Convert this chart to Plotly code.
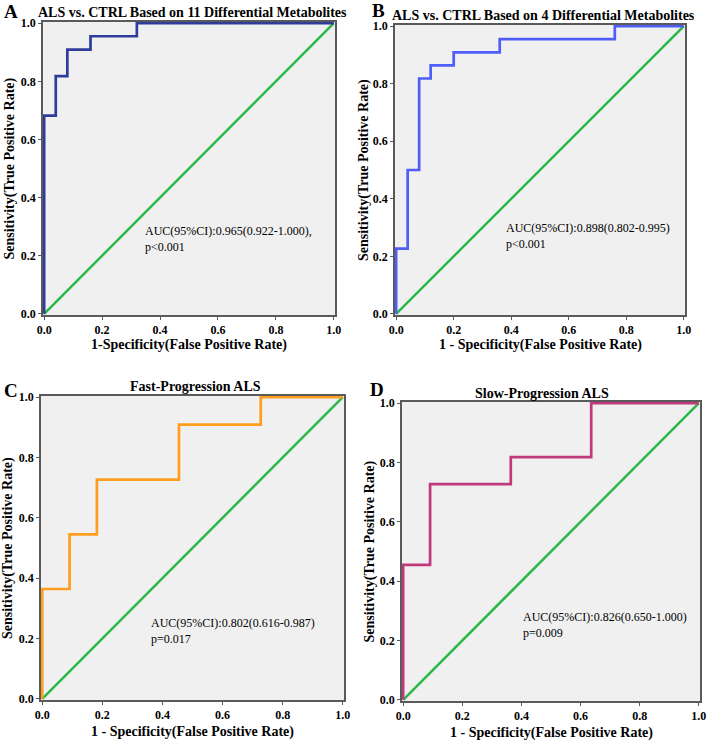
import plotly.graph_objects as go

# ROC step curves (1-specificity, sensitivity)
fpr_a = [0, 0, 0.04, 0.04, 0.08, 0.08, 0.16, 0.16, 0.32, 0.32, 1]
tpr_a = [0, 0.682, 0.682, 0.818, 0.818, 0.909, 0.909, 0.955, 0.955, 1, 1]

fpr_b = [0, 0, 0.04, 0.04, 0.08, 0.08, 0.12, 0.12, 0.20, 0.20, 0.36, 0.36, 0.76, 0.76, 1]
tpr_b = [0, 0.227, 0.227, 0.5, 0.5, 0.818, 0.818, 0.864, 0.864, 0.909, 0.909, 0.955, 0.955, 1, 1]

fpr_c = [0, 0, 0.091, 0.091, 0.182, 0.182, 0.455, 0.455, 0.727, 0.727, 1]
tpr_c = [0, 0.364, 0.364, 0.545, 0.545, 0.727, 0.727, 0.909, 0.909, 1, 1]

fpr_d = [0, 0, 0.091, 0.091, 0.364, 0.364, 0.636, 0.636, 1]
tpr_d = [0, 0.455, 0.455, 0.727, 0.727, 0.818, 0.818, 1, 1]

ref_line = [0, 1]

titles = [
    "ALS vs. CTRL Based on 11 Differential Metabolites",
    "ALS vs. CTRL Based on 4 Differential Metabolites",
    "Fast-Progression ALS",
    "Slow-Progression ALS",
]
letters = ["A", "B", "C", "D"]
auc_text = [
    "AUC(95%CI):0.965(0.922-1.000),<br>p<0.001",
    "AUC(95%CI):0.898(0.802-0.995)<br>p<0.001",
    "AUC(95%CI):0.802(0.616-0.987)<br>p=0.017",
    "AUC(95%CI):0.826(0.650-1.000)<br>p=0.009",
]
x_titles = [
    "1-Specificity(False Positive Rate)",
    "1 - Specificity(False Positive Rate)",
    "1 - Specificity(False Positive Rate)",
    "1 - Specificity(False Positive Rate)",
]
y_title = "Sensitivity(True Positive Rate)"
tick_vals = [0.0, 0.2, 0.4, 0.6, 0.8, 1.0]

W, H = 708, 743
# plot-area boxes in pixels: left, right, top, bottom
boxes = [(43, 335, 22, 315), (395, 685, 25, 315), (41, 344, 396, 700), (402, 700, 402, 701)]
colors = ["#2e3c9c", "#4f5ef7", "#ff9d1e", "#c2387c"]
curves = [(fpr_a, tpr_a), (fpr_b, tpr_b), (fpr_c, tpr_c), (fpr_d, tpr_d)]
auc_pos = [(0.34, 0.315), (0.375, 0.33), (0.355, 0.28), (0.40, 0.31)]
title_x = [192, 543, 195, 542]
title_y = [13, 15, 386, 393]
letter_pos = [(11, 11), (378, 10), (11, 390), (377, 389)]
ylab_x = [10, 364, 8, 369]
xlab_y = [345, 345, 732, 733]

SERIF = "Liberation Serif"
GREEN = "#2db84a"

fig = go.Figure()
annotations = []
layout = {}

for i in range(4):
    l, r, t, b = boxes[i]
    n = "" if i == 0 else str(i + 1)
    xa, ya = "x" + n, "y" + n
    fx, fy = curves[i]
    fig.add_trace(go.Scatter(x=ref_line, y=ref_line, mode="lines", xaxis=xa, yaxis=ya,
                             line=dict(color=GREEN, width=2.5), showlegend=False))
    fig.add_trace(go.Scatter(x=fx, y=fy, mode="lines", xaxis=xa, yaxis=ya,
                             line=dict(color=colors[i], width=2.7), showlegend=False))
    axis_common = dict(range=[-0.004, 1.004], showgrid=False, zeroline=False,
                       showline=True, mirror=True, linecolor="#5a5a5a", linewidth=1.5,
                       ticks="outside", ticklen=3, tickcolor="#5a5a5a", automargin=False,
                       tickvals=tick_vals, tickformat=".1f", layer="below traces",
                       tickfont=dict(family=SERIF, size=12, color="black", weight="bold"))
    layout["xaxis" + n] = dict(axis_common, domain=[l / W, r / W], anchor=ya)
    layout["yaxis" + n] = dict(axis_common, domain=[1 - b / H, 1 - t / H], anchor=xa)

    cx = (l + r) / 2
    centered = dict(xref="paper", yref="paper", showarrow=False,
                    xanchor="center", yanchor="middle")
    annotations.append(dict(centered, text="<b>" + titles[i] + "</b>", x=title_x[i] / W,
                            y=1 - title_y[i] / H,
                            font=dict(family=SERIF, size=14, color="black")))
    annotations.append(dict(centered, text="<b>" + letters[i] + "</b>", x=letter_pos[i][0] / W,
                            y=1 - letter_pos[i][1] / H,
                            font=dict(family=SERIF, size=19, color="black")))
    annotations.append(dict(centered, text="<b>" + x_titles[i] + "</b>", x=cx / W,
                            y=1 - xlab_y[i] / H,
                            font=dict(family=SERIF, size=14, color="black")))
    annotations.append(dict(centered, text="<b>" + y_title + "</b>", x=ylab_x[i] / W,
                            y=1 - (t + b) / 2 / H, textangle=-90,
                            font=dict(family=SERIF, size=14, color="black")))
    annotations.append(dict(text=auc_text[i], x=auc_pos[i][0], y=auc_pos[i][1],
                            xref=xa, yref=ya, xanchor="left", yanchor="top", align="left",
                            showarrow=False, font=dict(family=SERIF, size=12, color="black")))

fig.update_layout(width=W, height=H, margin=dict(l=0, r=0, t=0, b=0),
                  paper_bgcolor="white", plot_bgcolor="#f0f0f0",
                  annotations=annotations, **layout)

# drop the browser's default 8px body margin so the figure fills the window
fig.write_html("out.html", config={"displayModeBar": False},
               post_script="document.body.style.margin='0px';")
